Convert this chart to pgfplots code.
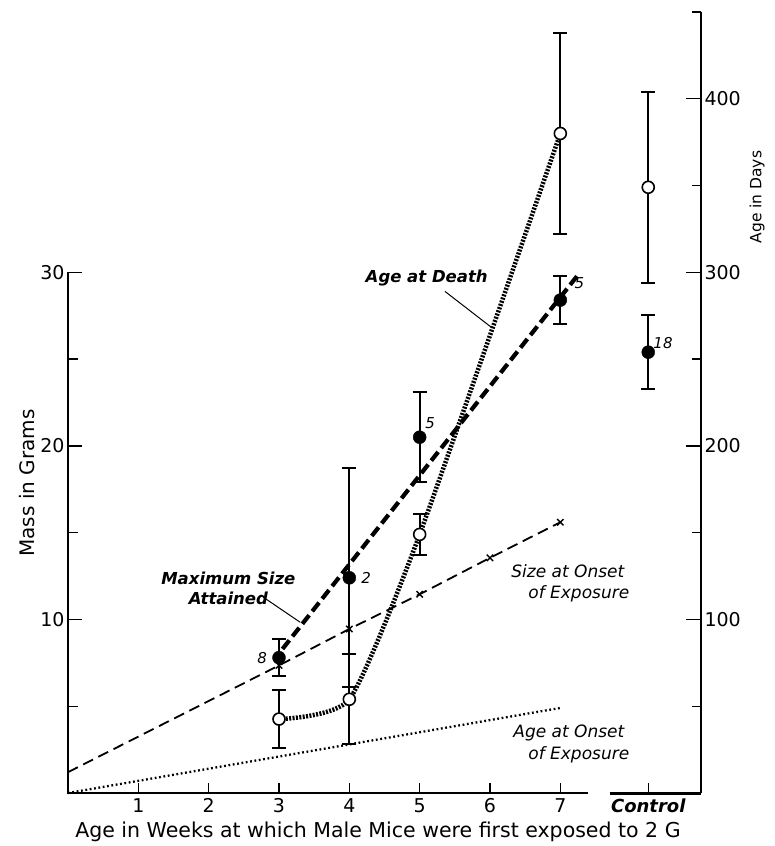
\documentclass[border=0pt]{standalone}
\usepackage{fontspec}
\setmainfont{DejaVu Sans}
\usepackage{pgfplots}
\usepackage{pgfplotstable}
\pgfplotsset{compat=1.18}

\pgfplotstableread{
x y e
3 7.8 1.05
4 12.4 6.3
5 20.5 2.6
7 28.4 1.4
8.25 25.4 2.15
}\maxsize

\pgfplotstableread{
x y e
3 42.6 16.5
4 54 26
5 149 12
7 380 58
8.25 349 55
}\death

\newcommand{\lab}{\fontsize{16.5}{20}\selectfont\bfseries\itshape}
\newcommand{\labi}{\fontsize{17}{20}\selectfont\itshape}
\newcommand{\num}{\fontsize{15}{17}\selectfont\itshape}

\begin{document}
\begin{tikzpicture}
% ---------- grams axis (left) ----------
\begin{axis}[
  at={(0pt,0pt)}, anchor=south west,
  width=633pt, height=781pt, scale only axis,
  xmin=0, xmax=9, ymin=0, ymax=45,
  axis x line*=bottom, axis y line*=left,
  axis line style={draw=none},
  clip=false,
  xtick={1,2,3,4,5,6,7,8.25},
  xticklabels={1,2,3,4,5,6,7,{\fontsize{18}{18}\selectfont\bfseries\itshape Control}},
  minor xtick={1,2,3,4,5,6,7,8.25},
  ytick={10,20,30}, minor ytick={5,15,25},
  tick align=inside,
  major tick length=14pt, minor tick length=10pt,
  tick style={black, line width=1.4pt},
  major x tick style={draw=none},
  minor x tick style={black, line width=1.4pt},
  every tick label/.append style={font=\fontsize{19}{19}\selectfont},
  xticklabel style={yshift=-2pt},
  /pgf/number format/assume math mode=true,
  xlabel={Age in Weeks at which Male Mice were first exposed to 2 G},
  every axis x label/.style={at={(rel axis cs:0.4897,0)}, yshift=-39pt, anchor=center, font=\fontsize{20.5}{20.5}\selectfont},
  ylabel={Mass in Grams},
  every axis y label/.style={at={(rel axis cs:0,0.397)}, xshift=-41pt, rotate=90, anchor=center, font=\fontsize{20}{20}\selectfont},
]
% axis lines
\draw[line width=1.5pt] (axis cs:0,30) -- (axis cs:0,0) -- (axis cs:7.4,0);
\draw[line width=3pt] (axis cs:7.7,0) -- (axis cs:9,0);

% size at onset of exposure
\addplot[black, line width=1.8pt, dash pattern=on 11pt off 6pt, mark=x, mark size=4.5pt,
  mark indices={2,3,4,5,6}, mark options={solid, line width=1.4pt}]
  coordinates {(0,1.2) (3,7.35) (4,9.45) (5,11.45) (6,13.55) (7,15.6)};

% maximum size attained (fitted line)
\addplot[black, line width=4.2pt, dash pattern=on 11pt off 5pt]
  coordinates {(3.05,8.3) (7.28,30.0)};

% error bars for maximum size
\addplot[only marks, mark=none, black,
  error bars/.cd, y dir=both, y explicit, error mark=|,
  error bar style={line width=2pt, solid},
  error mark options={line width=2pt, mark size=7pt, solid}]
  table[x=x, y=y, y error=e] {\maxsize};
\addplot[only marks, mark=*, mark size=6.5pt, black, mark options={fill=black}]
  table[x=x, y=y] {\maxsize};
\end{axis}

% ---------- days axis (right) ----------
\begin{axis}[
  at={(0pt,0pt)}, anchor=south west,
  width=633pt, height=781pt, scale only axis,
  xmin=0, xmax=9, ymin=0, ymax=450,
  axis y line*=right, axis x line=none,
  y axis line style={line width=1.6pt},
  clip=false,
  ytick={100,200,300,400}, minor ytick={50,150,250,350,450},
  tick align=inside,
  major tick length=15pt, minor tick length=9pt,
  tick style={black, line width=1.4pt},
  every tick label/.append style={font=\fontsize{19}{19}\selectfont},
  /pgf/number format/assume math mode=true,
  ylabel={Age in Days},
  every axis y label/.style={at={(rel axis cs:1,0.763)}, xshift=56pt, rotate=90, anchor=center, font=\fontsize{15.5}{15.5}\selectfont},
]
% age at onset of exposure
\addplot[black, line width=2.3pt, dash pattern=on 1.8pt off 2.6pt]
  coordinates {(0,0) (7,49)};

% age at death
\addplot[black, line width=4.5pt, dash pattern=on 2pt off 1.4pt, smooth, tension=0.35]
  coordinates {(3,42.6) (4,54) (5,149) (7,380)};

\addplot[only marks, mark=none, black,
  error bars/.cd, y dir=both, y explicit, error mark=|,
  error bar style={line width=2pt, solid},
  error mark options={line width=2pt, mark size=7pt, solid}]
  table[x=x, y=y, y error=e] {\death};
\addplot[only marks, mark=*, mark size=6pt, black, mark options={fill=white, line width=1.6pt, solid}]
  table[x=x, y=y] {\death};

% annotations
\node[font=\lab] at (axis cs:5.10,297) {Age at Death};
\draw[line width=1pt] (axis cs:5.36,289) -- (axis cs:6.03,268);
\node[font=\lab, align=center] at (axis cs:2.28,118) {Maximum Size\\Attained};
\draw[line width=1pt] (axis cs:2.77,113) -- (axis cs:3.30,98.4);
\node[font=\labi, anchor=east] at (axis cs:7.96,128) {Size at Onset};
\node[font=\labi, anchor=east] at (axis cs:8.03,115) {of Exposure};
\node[font=\labi, anchor=east] at (axis cs:7.96,34.5) {Age at Onset};
\node[font=\labi, anchor=east] at (axis cs:8.03,21.9) {of Exposure};

\node[font=\num] at (axis cs:2.76,77.7) {8};
\node[font=\num] at (axis cs:4.24,124) {2};
\node[font=\num] at (axis cs:5.15,213) {5};
\node[font=\num] at (axis cs:7.27,294) {5};
\node[font=\num] at (axis cs:8.46,259) {18};
\end{axis}

\pgfresetboundingbox
\path (-68pt,-53pt) rectangle (706pt,793pt);
\end{tikzpicture}
\end{document}
